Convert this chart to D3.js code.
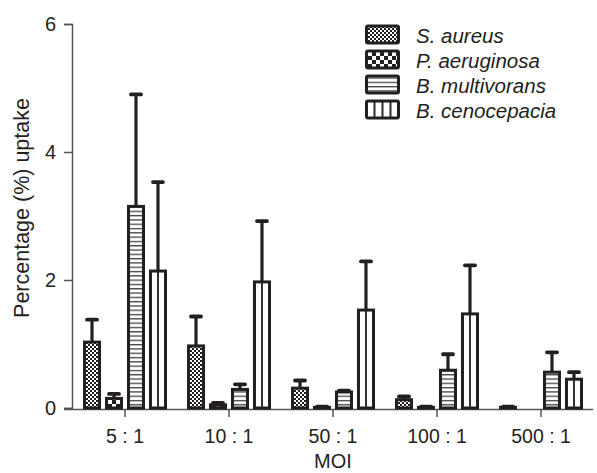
<!DOCTYPE html>
<html><head><meta charset="utf-8">
<script src="https://cdn.jsdelivr.net/npm/d3@7"></script>
<style>body{margin:0;background:#fff}svg{display:block}text{font-family:"Liberation Sans",Arial,Helvetica,sans-serif;fill:#231f20}</style>
</head><body>
<script>
const categories = ["5 : 1", "10 : 1", "50 : 1", "100 : 1", "500 : 1"];
const seriesNames = ["S. aureus", "P. aeruginosa", "B. multivorans", "B. cenocepacia"];
const sAureus = [1.03, 0.97, 0.31, 0.13, 0.01];
const sAureusErr = [1.38, 1.43, 0.43, 0.18, 0.02];
const pAeruginosa = [0.15, 0.05, 0.01, 0.01, null];
const pAeruginosaErr = [0.22, 0.08, 0.02, 0.02, null];
const bMultivorans = [3.15, 0.29, 0.25, 0.59, 0.56];
const bMultivoransErr = [4.9, 0.37, 0.27, 0.84, 0.87];
const bCenocepacia = [2.14, 1.97, 1.53, 1.47, 0.45];
const bCenocepaciaErr = [3.53, 2.92, 2.29, 2.23, 0.56];
const yTicks = [0, 2, 4, 6];

const values = [sAureus, pAeruginosa, bMultivorans, bCenocepacia];
const errs = [sAureusErr, pAeruginosaErr, bMultivoransErr, bCenocepaciaErr];
const ink = "#231f20";

const W = 597, H = 473;
const svg = d3.select("body").append("svg").attr("width", W).attr("height", H);
const defs = svg.append("defs");

// patterns
const p0 = defs.append("pattern").attr("id","pat0").attr("patternUnits","userSpaceOnUse").attr("width",4).attr("height",4);
p0.append("rect").attr("width",4).attr("height",4).attr("fill","#fff");
p0.append("rect").attr("width",2).attr("height",2).attr("fill",ink);
p0.append("rect").attr("x",2).attr("y",2).attr("width",2).attr("height",2).attr("fill",ink);

const p1 = defs.append("pattern").attr("id","pat1").attr("patternUnits","userSpaceOnUse").attr("width",8).attr("height",8);
p1.append("rect").attr("width",8).attr("height",8).attr("fill","#fff");
p1.append("rect").attr("width",4).attr("height",4).attr("fill",ink);
p1.append("rect").attr("x",4).attr("y",4).attr("width",4).attr("height",4).attr("fill",ink);

const p2 = defs.append("pattern").attr("id","pat2").attr("patternUnits","userSpaceOnUse").attr("width",8).attr("height",4.3);
p2.append("rect").attr("width",8).attr("height",4.3).attr("fill","#fff");
p2.append("rect").attr("y",0).attr("width",8).attr("height",1.3).attr("fill","#444");

// vertical lines centred in each bar (2 columns)
const p3 = defs.append("pattern").attr("id","pat3").attr("patternUnits","objectBoundingBox")
  .attr("patternContentUnits","objectBoundingBox").attr("width",0.5).attr("height",1);
p3.append("rect").attr("width",0.5).attr("height",1).attr("fill","#fff");
p3.append("rect").attr("x",0).attr("width",0.06).attr("height",1).attr("fill",ink);
p3.append("rect").attr("x",0.44).attr("width",0.06).attr("height",1).attr("fill",ink);
// legend version (4 columns)
const p3l = defs.append("pattern").attr("id","pat3l").attr("patternUnits","objectBoundingBox")
  .attr("patternContentUnits","objectBoundingBox").attr("width",0.25).attr("height",1);
p3l.append("rect").attr("width",0.25).attr("height",1).attr("fill","#fff");
p3l.append("rect").attr("x",0).attr("width",0.03).attr("height",1).attr("fill",ink);
p3l.append("rect").attr("x",0.22).attr("width",0.03).attr("height",1).attr("fill",ink);

const fills = ["url(#pat0)","url(#pat1)","url(#pat2)","url(#pat3)"];
const legFills = ["url(#pat0)","url(#pat1)","url(#pat2)","url(#pat3l)"];

const x0 = d3.scaleBand().domain(categories).range([73, 593]).padding(0);
const x1 = d3.scaleBand().domain(seriesNames).range([10, 94]).paddingInner(0.18).paddingOuter(0);
const y = d3.scaleLinear().domain([0, 6]).range([408, 24]);

// axes
const yAxis = svg.append("g").attr("transform","translate(72,0)")
  .call(d3.axisLeft(y).tickValues(yTicks).tickSize(8).tickPadding(8).tickFormat(d3.format("d")));
yAxis.select(".domain").attr("stroke","#555").attr("stroke-width",1.5);
yAxis.selectAll(".tick line").attr("stroke","#555").attr("stroke-width",1.5);
yAxis.selectAll("text").style("font-size","20px").attr("fill",ink);

const xAxis = svg.append("g").attr("transform","translate(0,409)")
  .call(d3.axisBottom(x0).tickSize(8).tickSizeOuter(0).tickPadding(12));
xAxis.select(".domain").attr("d","M64,0.5H593").attr("stroke","#555").attr("stroke-width",1.5);
xAxis.selectAll(".tick line").attr("stroke","#555").attr("stroke-width",1.5);
xAxis.selectAll("text").style("font-size","19.5px").attr("fill",ink);

// bars
seriesNames.forEach((s, si) => {
  const data = categories.map((c, ci) => ({c, v: values[si][ci], e: errs[si][ci]})).filter(d => d.v != null);
  const g = svg.append("g");
  data.forEach(d => {
    const bx = x0(d.c) + x1(s);
    const bw = x1.bandwidth();
    const cx = bx + bw / 2;
    g.append("line").attr("x1", cx).attr("x2", cx).attr("y1", y(d.v)).attr("y2", y(d.e))
      .attr("stroke", ink).attr("stroke-width", 3.2);
    g.append("line").attr("x1", cx - 5).attr("x2", cx + 5).attr("y1", y(d.e)).attr("y2", y(d.e))
      .attr("stroke", ink).attr("stroke-width", 3.8).attr("stroke-linecap","round");
    const top = y(d.v), h = Math.max(y(0) - top, 0.5);
    g.append("rect").attr("x", bx + 1.5).attr("y", top).attr("width", bw - 3).attr("height", h)
      .attr("fill", fills[si]).attr("stroke", ink).attr("stroke-width", 3);
  });
});

// legend
const leg = svg.append("g");
seriesNames.forEach((s, i) => {
  const ty = 26 + i * 25;
  leg.append("rect").attr("x", 366.5).attr("y", ty).attr("width", 32).attr("height", 17)
    .attr("fill", legFills[i]).attr("stroke", ink).attr("stroke-width", 3).attr("rx", 1.5);
  leg.append("text").attr("x", 416).attr("y", ty + 17).style("font-size","20.5px").style("font-style","italic").text(s);
});

// axis titles
svg.append("text").attr("transform","translate(29,208) rotate(-90)").attr("text-anchor","middle")
  .style("font-size","21.5px").text("Percentage (%) uptake");
svg.append("text").attr("x", 333).attr("y", 468).attr("text-anchor","middle").style("font-size","20px").text("MOI");
</script>
</body></html>
